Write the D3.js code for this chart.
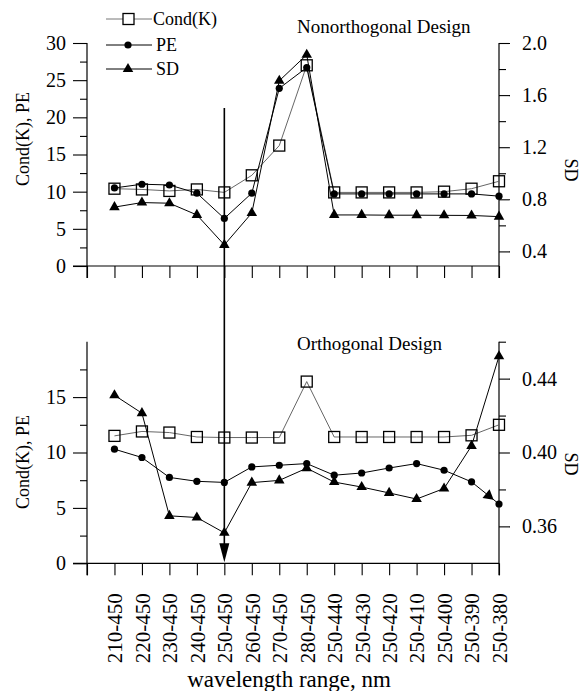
<!DOCTYPE html>
<html>
<head>
<meta charset="utf-8">
<script src="https://cdn.jsdelivr.net/npm/d3@7"></script>
<style>
  html, body { margin: 0; padding: 0; background: #fff; }
  svg { display: block; font-family: "Liberation Serif", "DejaVu Serif", serif; }
</style>
</head>
<body>
<div id="chart"></div>
<script>
// wavelength ranges (x categories)
const ranges = ["210-450", "220-450", "230-450", "240-450", "250-450", "260-450", "270-450",
                "280-450", "250-440", "250-430", "250-420", "250-410", "250-400", "250-390", "250-380"];

// Nonorthogonal design
const nonCond = [10.4, 10.3, 10.1, 10.3, 9.9, 12.2, 16.2, 27.0, 9.9, 9.9, 9.9, 9.9, 10.0, 10.4, 11.4];
const nonPE   = [10.5, 11.0, 10.9, 9.8, 6.4, 9.8, 23.9, 26.7, 9.7, 9.7, 9.7, 9.7, 9.7, 9.7, 9.4];
const nonSD   = [0.74, 0.775, 0.77, 0.68, 0.45, 0.695, 1.71, 1.91, 0.68, 0.68, 0.678, 0.678, 0.677, 0.676, 0.667];

// Orthogonal design
const ortCond = [11.5, 11.9, 11.8, 11.4, 11.35, 11.35, 11.35, 16.4, 11.4, 11.4, 11.4, 11.4, 11.4, 11.55, 12.5];
const ortPE   = [10.3, 9.55, 7.75, 7.4, 7.3, 8.7, 8.85, 9.0, 7.95, 8.15, 8.6, 9.0, 8.4, 7.35, 5.35];
const ortSD   = [0.431, 0.4213, 0.3657, 0.3648, 0.3565, 0.3837, 0.3849, 0.3915, 0.384, 0.3813, 0.3781, 0.3748, 0.3805, 0.4036, 0.4521];

// axis ticks
const topLeftTicks = [0, 5, 10, 15, 20, 25, 30];
const topLeftMinor = [2.5, 7.5, 12.5, 17.5, 22.5, 27.5];
const topRightTicks = [0.4, 0.8, 1.2, 1.6, 2.0];
const topRightMinor = [0.6, 1.0, 1.4, 1.8];
const botLeftTicks = [0, 5, 10, 15];
const botLeftMinor = [2.5, 7.5, 12.5, 17.5];
const botRightTicks = [0.36, 0.40, 0.44];
const botRightMinor = [0.38, 0.42, 0.46];

const width = 581, height = 691;
const svg = d3.select("#chart").append("svg")
    .attr("width", width)
    .attr("height", height);

const x = d3.scaleLinear().domain([-1, ranges.length - 1]).range([87, 499]);

const panels = [
    {
        title: "Nonorthogonal Design", titleY: 33,
        yL: d3.scaleLinear().domain([0, 30]).range([266, 43]),
        yR: d3.scaleLinear().domain([0.288, 2.0]).range([266, 43]),
        lt: topLeftTicks, lm: topLeftMinor, rt: topRightTicks, rm: topRightMinor,
        rfmt: d3.format(".1f"),
        cond: nonCond, pe: nonPE, sd: nonSD
    },
    {
        title: "Orthogonal Design", titleY: 350,
        yL: d3.scaleLinear().domain([0, 20]).range([563.3, 341.7]),
        yR: d3.scaleLinear().domain([0.34, 0.46]).range([563.3, 341.7]),
        lt: botLeftTicks, lm: botLeftMinor, rt: botRightTicks, rm: botRightMinor,
        rfmt: d3.format(".2f"),
        cond: ortCond, pe: ortPE, sd: ortSD
    }
];

const tri = d3.symbol().type(d3.symbolTriangle).size(48);

function styleAxis(g) {
    g.attr("font-family", "Liberation Serif, serif").attr("font-size", 20);
    g.select(".domain").attr("stroke", "#000").attr("stroke-width", 1.2);
    g.selectAll(".tick line").attr("stroke", "#000").attr("stroke-width", 1.1);
    g.selectAll(".tick text").attr("fill", "#000").style("font-size", "20px")
        .style("font-family", "'Liberation Serif', serif");
}

panels.forEach((p, pi) => {
    const g = svg.append("g");
    const y0 = p.yL.range()[0];

    // x axis (ticks at every category plus the left axis position)
    const xa = g.append("g")
        .attr("transform", `translate(0,${y0})`)
        .call(d3.axisBottom(x).tickValues(d3.range(-1, ranges.length)).tickSize(12).tickSizeOuter(0)
            .tickFormat(i => (pi === 1 && i >= 0) ? ranges[i] : ""));
    styleAxis(xa);
    xa.select(".domain").attr("d", `M${x(-1) - 14},0H${x(ranges.length - 1)}`);
    if (pi === 1) {
        xa.selectAll(".tick text")
            .attr("transform", "rotate(-90)")
            .attr("text-anchor", "end")
            .attr("x", -30)
            .attr("y", 0)
            .attr("dy", "0.35em")
            .style("font-size", "21px");
    }

    // left axis
    const la = g.append("g").attr("transform", `translate(${x(-1)},0)`)
        .call(d3.axisLeft(p.yL).tickValues(p.lt).tickSize(14).tickSizeOuter(0).tickPadding(7));
    styleAxis(la);
    la.select(".domain").attr("d", `M0,${p.yL.range()[1]}V${y0 + 12}`);
    const lm = g.append("g").attr("transform", `translate(${x(-1)},0)`)
        .call(d3.axisLeft(p.yL).tickValues(p.lm).tickSize(7).tickFormat(""));
    styleAxis(lm);
    lm.select(".domain").remove();

    // right axis
    const ra = g.append("g").attr("transform", `translate(${x(ranges.length - 1)},0)`)
        .call(d3.axisRight(p.yR).tickValues(p.rt).tickSize(11).tickSizeOuter(0).tickPadding(12).tickFormat(p.rfmt));
    styleAxis(ra);
    ra.select(".domain").attr("d", `M0,${p.yR.range()[1]}V${y0 + 12}`);
    const rm = g.append("g").attr("transform", `translate(${x(ranges.length - 1)},0)`)
        .call(d3.axisRight(p.yR).tickValues(p.rm).tickSize(7).tickFormat(""));
    styleAxis(rm);
    rm.select(".domain").remove();

    // axis titles
    g.append("text")
        .attr("transform", `translate(23,${pi === 0 ? 139 : 462}) rotate(-90)`)
        .attr("text-anchor", "middle").attr("dy", "0.35em")
        .style("font-size", "18px")
        .text("Cond(K), PE");
    g.append("text")
        .attr("transform", `translate(571,${pi === 0 ? 170 : 464}) rotate(90)`)
        .attr("text-anchor", "middle").attr("dy", "0.35em")
        .style("font-size", "18px")
        .text("SD");

    g.append("text")
        .attr("x", 297).attr("y", p.titleY)
        .style("font-size", "19px")
        .text(p.title);

    // lines
    const lineL = d3.line().x((d, i) => x(i)).y(d => p.yL(d));
    const lineR = d3.line().x((d, i) => x(i)).y(d => p.yR(d));

    g.append("path").datum(p.cond).attr("d", lineL)
        .attr("fill", "none").attr("stroke", "#555").attr("stroke-width", 0.9);
    g.append("path").datum(p.pe).attr("d", lineL)
        .attr("fill", "none").attr("stroke", "#000").attr("stroke-width", 1);
    g.append("path").datum(p.sd).attr("d", lineR)
        .attr("fill", "none").attr("stroke", "#000").attr("stroke-width", 1);

    // markers
    g.append("g").selectAll("path").data(p.sd).join("path")
        .attr("d", tri)
        .attr("transform", (d, i) => `translate(${x(i)},${p.yR(d)})`)
        .attr("fill", "#000");
    g.append("g").selectAll("rect").data(p.cond).join("rect")
        .attr("x", (d, i) => x(i) - 5.5).attr("y", d => p.yL(d) - 5.5)
        .attr("width", 11).attr("height", 11)
        .attr("fill", "none")
        .attr("stroke", "#000").attr("stroke-width", 1.3);
    g.append("g").selectAll("circle").data(p.pe).join("circle")
        .attr("cx", (d, i) => x(i)).attr("cy", d => p.yL(d))
        .attr("r", 3.6).attr("fill", "#000");

    if (pi === 1) {
        // small arrowhead sitting on the last PE segment
        const n = p.pe.length;
        const ax = x(n - 2), ay = p.yL(p.pe[n - 2]), bx = x(n - 1), by = p.yL(p.pe[n - 1]);
        const t = 0.62;
        const ang = Math.atan2(by - ay, bx - ax) * 180 / Math.PI + 90;
        g.append("path")
            .attr("d", d3.symbol().type(d3.symbolTriangle).size(55)())
            .attr("transform", `translate(${ax + (bx - ax) * t},${ay + (by - ay) * t}) rotate(${ang})`)
            .attr("fill", "#000");
    }
});

// legend
const legendRows = [
    { name: "Cond(K)", y: 19, shape: "square" },
    { name: "PE", y: 45, shape: "circle" },
    { name: "SD", y: 69, shape: "triangle" }
];
const lg = svg.append("g");
legendRows.forEach(r => {
    lg.append("line").attr("x1", 106).attr("x2", 152).attr("y1", r.y).attr("y2", r.y)
        .attr("stroke", r.shape === "square" ? "#666" : "#000")
        .attr("stroke-width", r.shape === "square" ? 0.9 : 1);
    if (r.shape === "square") {
        lg.append("rect").attr("x", 123).attr("y", r.y - 5.5).attr("width", 11).attr("height", 11)
            .attr("fill", "#fff").attr("stroke", "#000").attr("stroke-width", 1.3);
    } else if (r.shape === "circle") {
        lg.append("circle").attr("cx", 128).attr("cy", r.y).attr("r", 3.6).attr("fill", "#000");
    } else {
        lg.append("path").attr("d", tri).attr("transform", `translate(128,${r.y})`).attr("fill", "#000");
    }
    lg.append("text").attr("x", r.shape === "square" ? 153 : 156).attr("y", r.y).attr("dy", "0.35em")
        .style("font-size", "18px").text(r.name);
});

// vertical arrow marking 250-450
const lowerPanel = panels[1];
const arrowX = x(4);
const tipY = lowerPanel.yL(0) - 1;
svg.append("line")
    .attr("x1", arrowX).attr("x2", arrowX)
    .attr("y1", 108).attr("y2", tipY - 15)
    .attr("stroke", "#000").attr("stroke-width", 1.6);
svg.append("path")
    .attr("d", `M${arrowX - 5},${tipY - 19}L${arrowX + 5},${tipY - 19}L${arrowX},${tipY}Z`)
    .attr("fill", "#000");

// x axis title
svg.append("text")
    .attr("x", 289).attr("y", 687)
    .attr("text-anchor", "middle")
    .style("font-size", "23px")
    .text("wavelength range, nm");
</script>
</body>
</html>
